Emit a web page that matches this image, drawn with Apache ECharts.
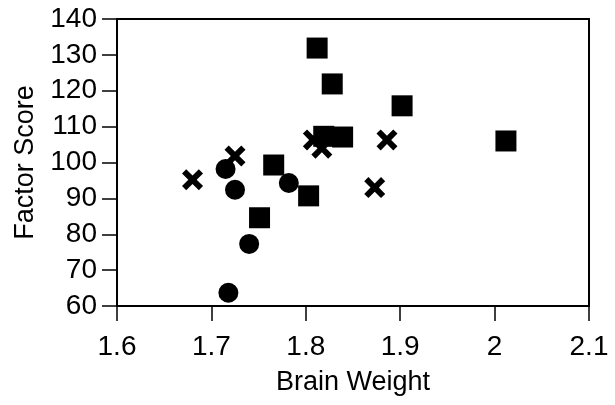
<!DOCTYPE html>
<html>
<head>
<meta charset="utf-8">
<script src="https://cdn.jsdelivr.net/npm/echarts@6/dist/echarts.min.js"></script>
<style>
  html, body { margin: 0; padding: 0; background: #fff; }
  #chart { width: 615px; height: 405px; }
</style>
</head>
<body>
<div id="chart"></div>
<script>
// squares
var squareX = [1.812, 1.828, 1.902, 1.819, 1.839, 2.012, 1.766, 1.803, 1.751];
var squareY = [131.9, 121.9, 115.8, 107.3, 107.1, 106.0, 99.3, 90.7, 84.6];
// crosses
var crossX = [1.680, 1.725, 1.808, 1.817, 1.886, 1.873];
var crossY = [95.2, 101.8, 106.3, 104.0, 106.3, 93.0];
// circles
var circleX = [1.715, 1.725, 1.782, 1.740, 1.718];
var circleY = [98.2, 92.4, 94.3, 77.3, 63.7];

var crossPath = 'path://M0,4 L4,0 L10,6 L16,0 L20,4 L14,10 L20,16 L16,20 L10,14 L4,20 L0,16 L6,10 Z';

function pairs(xs, ys) {
  var out = [];
  for (var i = 0; i < xs.length; i++) {
    out.push([xs[i], ys[i]]);
  }
  return out;
}

var chart = echarts.init(document.getElementById('chart'));

var font = '"Liberation Sans", Arial, sans-serif';

var option = {
  animation: false,
  grid: {
    left: 117, right: 26, top: 19, bottom: 99,
    show: true,
    borderColor: '#000',
    borderWidth: 2,
    backgroundColor: '#fff'
  },
  xAxis: {
    type: 'value',
    min: 1.6, max: 2.1, interval: 0.1,
    name: 'Brain Weight',
    nameLocation: 'middle',
    nameGap: 63,
    nameTextStyle: { color: '#000', fontSize: 27, fontFamily: font },
    axisLine: { show: true, lineStyle: { color: '#000', width: 2 } },
    axisTick: { show: true, inside: false, length: 15, lineStyle: { color: '#000', width: 1.5 } },
    axisLabel: {
      color: '#000', fontSize: 28, fontFamily: font, margin: 27,
      formatter: function (v) { return String(Math.round(v * 10) / 10); }
    },
    splitLine: { show: false }
  },
  yAxis: {
    type: 'value',
    min: 60, max: 140, interval: 10,
    name: 'Factor Score',
    nameLocation: 'middle',
    nameGap: 77,
    nameTextStyle: { color: '#000', fontSize: 27, fontFamily: font },
    axisLine: { show: true, lineStyle: { color: '#000', width: 2 } },
    axisTick: { show: true, inside: false, length: 15, lineStyle: { color: '#000', width: 1.5 } },
    axisLabel: { color: '#000', fontSize: 28, fontFamily: font, margin: 20 },
    splitLine: { show: false }
  },
  series: [
    {
      type: 'scatter',
      symbol: 'rect',
      symbolSize: 21,
      itemStyle: { color: '#000', opacity: 1 },
      data: pairs(squareX, squareY)
    },
    {
      type: 'scatter',
      symbol: crossPath,
      symbolSize: 21,
      itemStyle: { color: '#000', opacity: 1 },
      data: pairs(crossX, crossY)
    },
    {
      type: 'scatter',
      symbol: 'circle',
      symbolSize: 20,
      itemStyle: { color: '#000', opacity: 1 },
      data: pairs(circleX, circleY)
    }
  ]
};

chart.setOption(option);
</script>
</body>
</html>
